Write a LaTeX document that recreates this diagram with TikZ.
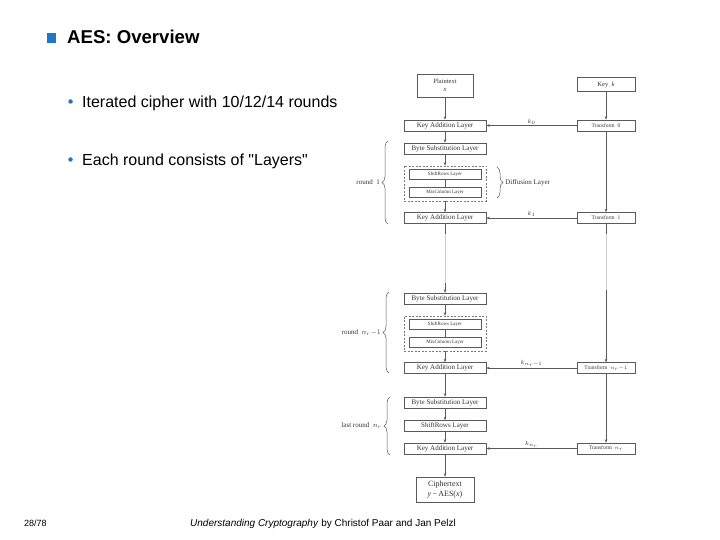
\documentclass[tikz,border=0pt]{standalone}
\usepackage{fontspec}
\setmainfont{Liberation Sans}
\newfontfamily\tms{Liberation Serif}
\usetikzlibrary{arrows.meta,decorations.pathreplacing}
\definecolor{ablue}{HTML}{1F77C8}
\definecolor{lc}{HTML}{5A5A5A}
\definecolor{tc}{HTML}{333333}
\begin{document}
\begin{tikzpicture}[x=1pt,y=-1pt,
  lay/.style={draw=lc, line width=0.5pt, fill=white, inner sep=0pt, text=tc,
    minimum width=82pt, minimum height=11pt, font=\tms\fontsize{7}{8}\selectfont},
  sub/.style={lay, minimum width=72pt, minimum height=10pt, font=\tms\fontsize{5}{6}\selectfont},
  tbox/.style={lay, minimum width=58pt, font=\tms\fontsize{5.5}{6}\selectfont},
  dbox/.style={draw=lc!80, dash pattern=on 2pt off 1.5pt, line width=0.5pt,
    minimum width=82pt, minimum height=35pt, inner sep=0pt},
  conn/.style={draw=lc, line width=0.5pt},
  arr/.style={conn, -{Stealth[length=3.5pt,width=2.6pt]}},
  faint/.style={draw=lc!30, line width=0.5pt},
  brc/.style={decorate, decoration={brace, amplitude=6pt}, draw=lc, line width=0.5pt},
  lbl/.style={font=\tms\fontsize{7}{8}\selectfont, text=tc, inner sep=1pt},
  klbl/.style={font=\tms\fontsize{6}{7}\selectfont, text=tc, inner sep=1pt}
]
\useasboundingbox (0,0) rectangle (720,540);

% ---- slide text ----
\node[fill=ablue, inner sep=0pt, minimum width=9pt, minimum height=10pt] (sq) at (51.5,38) {};
\node[anchor=base west, inner sep=0pt, font=\bfseries\fontsize{18.6}{20}\selectfont] (title) at (67,44) {AES: Overview};
\node[circle, fill=ablue, inner sep=0pt, minimum size=4.5pt] (b1) at (70.5,101.5) {};
\node[anchor=base west, inner sep=0pt, font=\fontsize{16}{18}\selectfont] (bt1) at (82,108) {Iterated cipher with  10/12/14 rounds};
\node[circle, fill=ablue, inner sep=0pt, minimum size=4.5pt] (b2) at (70.5,159.5) {};
\node[anchor=base west, inner sep=0pt, font=\fontsize{16}{18}\selectfont] (bt2) at (82,166) {Each round consists of \textquotedbl Layers\textquotedbl};

\node[anchor=base west, inner sep=0pt, font=\fontsize{9}{10}\selectfont] (pg) at (24,526) {28/78};
\node[anchor=base west, inner sep=0pt, font=\fontsize{10}{12}\selectfont] (ft) at (190,526) {\textit{Understanding Cryptography} by Christof Paar and Jan Pelzl};

% ---- diagram nodes ----
\node[lay, minimum width=56pt, minimum height=23pt, align=center, font=\tms\fontsize{6.5}{8}\selectfont] (plain) at (445,85.5) {Plaintext\\\textit{x}};
\node[tbox, minimum height=14pt, font=\tms\fontsize{6.5}{7}\selectfont] (key) at (606,84.5) {Key\ \ \textit{k}};

\node[lay] (ka0) at (445,125.5) {Key Addition Layer};
\node[tbox] (t0) at (606,125.5) {Transform\ \ 0};

\node[lay] (bs1) at (445,148.5) {Byte Substitution Layer};
\node[dbox] (d1) at (445,183.5) {};
\node[sub] (sr1) at (445,174) {ShiftRows Layer};
\node[sub] (mc1) at (445,192) {MixColumn Layer};
\node[lay] (ka1) at (445,218) {Key Addition Layer};
\node[tbox] (t1) at (606,218) {Transform\ \ 1};

\node[lay] (bs2) at (445,298.5) {Byte Substitution Layer};
\node[dbox] (d2) at (445,333.5) {};
\node[sub] (sr2) at (445,324) {ShiftRows Layer};
\node[sub] (mc2) at (445,342) {MixColumn Layer};
\node[lay] (ka2) at (445,368) {Key Addition Layer};
\node[tbox] (t2) at (606,368) {Transform\ \ $n_r{-}1$};

\node[lay] (bs3) at (445,402.5) {Byte Substitution Layer};
\node[lay] (sr3) at (445,426) {ShiftRows Layer};
\node[lay] (ka3) at (445,448.5) {Key Addition Layer};
\node[tbox] (t3) at (606,448.5) {Transform\ \ $n_r$};

\node[lay, minimum width=58pt, minimum height=25pt, align=center, font=\tms\fontsize{8}{9.5}\selectfont] (ct) at (445,489.5) {Ciphertext\\\textit{y}\,−\,AES(\textit{x})};

% ---- connectors ----
\draw[arr] (plain) -- (ka0);
\draw[arr] (key) -- (t0);
\draw[arr] (t0) -- node[above, klbl, pos=0.5] {$k_0$} (ka0);
\draw[arr] (ka0) -- (bs1);
\draw[arr] (bs1) -- (d1);
\draw[conn] (sr1) -- (mc1);
\draw[arr] (d1) -- (ka1);
\draw[arr] (t0) -- (t1);
\draw[arr] (t1) -- node[above, klbl] {$k_1$} (ka1);

\coordinate (g1) at (445,234);
\coordinate (g2) at (445,283);
\coordinate (h1) at (606,234);
\coordinate (h2) at (606,290);
\draw[faint] (ka1) -- (bs2);
\draw[conn] (ka1) -- (g1);
\draw[arr] (g2) -- (bs2);
\draw[faint] (t1) -- (t2);
\draw[conn] (t1) -- (h1);
\draw[arr] (h2) -- (t2);

\draw[arr] (bs2) -- (d2);
\draw[conn] (sr2) -- (mc2);
\draw[arr] (d2) -- (ka2);
\draw[arr] (t2) -- node[above, klbl] {$k_{n_r{-}1}$} (ka2);

\draw[arr] (ka2) -- (bs3);
\draw[arr] (bs3) -- (sr3);
\draw[arr] (sr3) -- (ka3);
\draw[arr] (t2) -- (t3);
\draw[arr] (t3) -- node[above, klbl] {$k_{n_r}$} (ka3);
\draw[arr] (ka3) -- (ct);

% ---- braces ----
\coordinate (r1a) at (388,224);
\coordinate (r1b) at (388,141);
\draw[brc] (r1a) -- node[left=7pt, lbl] (r1l) {round\ \ 1} (r1b);

\coordinate (dfa) at (497,167);
\coordinate (dfb) at (497,198);
\draw[brc] (dfa) -- node[right=7pt, lbl] (dfl) {Diffusion Layer} (dfb);

\coordinate (r2a) at (389,373);
\coordinate (r2b) at (389,292);
\draw[brc] (r2a) -- node[left=7pt, lbl] (r2l) {round\ \ $n_r{-}1$} (r2b);

\coordinate (r3a) at (390,455);
\coordinate (r3b) at (390,397);
\draw[brc] (r3a) -- node[left=7pt, lbl] (r3l) {last round\ \ $n_r$} (r3b);
\end{tikzpicture}
\end{document}
